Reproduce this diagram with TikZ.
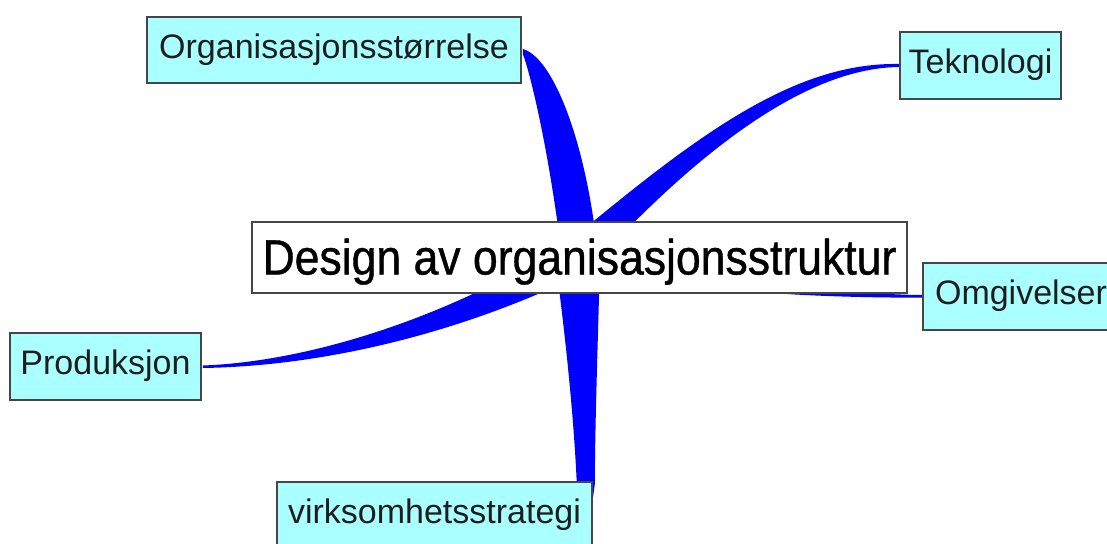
\documentclass[tikz,border=0pt]{standalone}
\usepackage{fontspec}
\setmainfont{Liberation Sans}
\newfontfamily\rootfont{Liberation Sans}[FakeStretch=0.9, FakeBold=0.8]
\usetikzlibrary{backgrounds}
\definecolor{nodecyan}{RGB}{170,255,255}
\definecolor{edgeblue}{RGB}{0,0,255}
\definecolor{boxborder}{RGB}{70,70,70}
\definecolor{childtext}{RGB}{30,30,30}
\tikzset{
  childbox/.style={draw=boxborder, line width=1.6pt, fill=nodecyan, inner sep=0pt,
    font=\fontsize{34}{40}\selectfont, text=childtext, text height=24.5pt, text depth=8.2pt},
  rootbox/.style={draw=boxborder, line width=1.6pt, fill=white, inner sep=0pt,
    font=\rootfont\fontsize{49.5}{56}\selectfont, text=black, text height=44pt, text depth=10pt},
  wedge/.style={fill=edgeblue}
}
\begin{document}
\begin{tikzpicture}[x=1pt,y=-1pt]
\useasboundingbox (0,0) rectangle (1107,543);
\node[rootbox, minimum width=655pt, minimum height=71pt] (root) at (579.5,257.5) {Design av organisasjonsstruktur};
\node[childbox, minimum width=374pt, minimum height=66pt] (org) at (334,50) {Organisasjonsstørrelse};
\node[childbox, minimum width=161pt, minimum height=67pt] (tek) at (980.5,65.5) {Teknologi};
\node[childbox, minimum width=196pt, minimum height=67pt] (omg) at (1021,296.5) {Omgivelser};
\node[childbox, minimum width=191pt, minimum height=67pt] (prod) at (105.5,366.5) {Produksjon};
\node[childbox, minimum width=315pt, minimum height=66pt] (virk) at (434.5,515) {virksomhetsstrategi};
\begin{scope}[on background layer]
% Organisasjonsstorrelse
\fill[wedge] ([shift={(18.5,0)}]root.center)
  .. controls (588,150) and (555,58) .. ([shift={(1,-1)}]org.east)
  -- ([shift={(1,4)}]org.east)
  .. controls (530,72) and (549,150) .. ([shift={(-17.5,0)}]root.center) -- cycle;
% Teknologi
\fill[wedge] ([shift={(-29.5,0)}]root.center)
  .. controls (690,140) and (790,62) .. ([shift={(0,-1.5)}]tek.west)
  -- ([shift={(0,1.5)}]tek.west)
  .. controls (800,68) and (690,161.5) .. ([shift={(20.5,0)}]root.center) -- cycle;
% Omgivelser
\fill[wedge] ([shift={(20,-7.5)}]root.center)
  .. controls (720,280) and (850,294.5) .. ([shift={(0,-1.5)}]omg.west)
  -- ([shift={(0,1.2)}]omg.west)
  .. controls (850,297.5) and (720,296) .. ([shift={(20,12.5)}]root.center) -- cycle;
% Produksjon
\fill[wedge] ([shift={(-59.5,12.5)}]root.center)
  .. controls (420,325) and (300,362) .. ([shift={(1,-1)}]prod.east)
  -- ([shift={(1,1.5)}]prod.east)
  .. controls (330,366) and (470,330) .. ([shift={(10.5,12.5)}]root.center) -- cycle;
% virksomhetsstrategi
\fill[wedge] ([shift={(20.5,0)}]root.center)
  .. controls (598,340) and (595,420) .. ([shift={(2,3)}]virk.north east)
  -- ([shift={(-4,48)}]virk.north east)
  -- ([shift={(-16,3)}]virk.north east)
  .. controls (574,420) and (566,340) .. ([shift={(-24.5,0)}]root.center) -- cycle;
\end{scope}
\end{tikzpicture}
\end{document}
